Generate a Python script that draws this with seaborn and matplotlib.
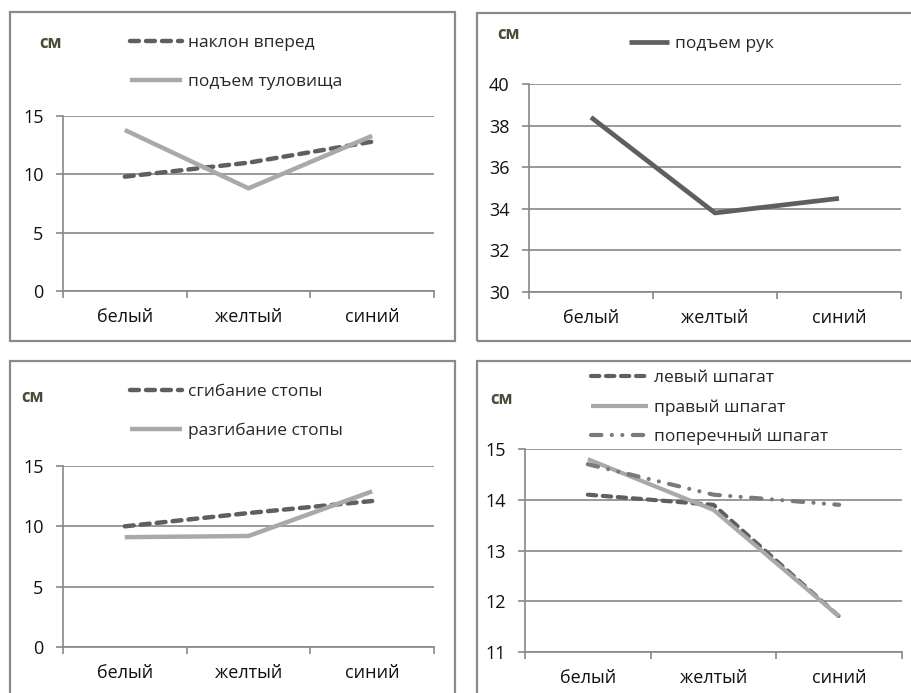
import matplotlib
matplotlib.use("Agg")
import numpy as np
import pandas as pd
import matplotlib.pyplot as plt
import seaborn as sns
from matplotlib.patches import Rectangle

sns.set_style("white")
plt.rcParams["font.family"] = ["Open Sans", "DejaVu Sans"]

W, H = 912, 693
DARK = "#5f5f5f"
LIGHT = "#a9a9a9"
MID = "#7a7a7a"
GRID = "#878787"
CM_COL = "#4a4a36"

cats = ["белый", "желтый", "синий"]

# panel 1
naklon = [9.8, 11.0, 12.8]
podem_tul = [13.8, 8.8, 13.3]
# panel 2
podem_ruk = [38.4, 33.8, 34.5]
# panel 3
sgib = [10.0, 11.1, 12.1]
razgib = [9.1, 9.2, 12.9]
# panel 4
levyi = [14.1, 13.9, 11.7]
pravyi = [14.8, 13.8, 11.7]
poperech = [14.7, 14.1, 13.9]

fig = plt.figure(figsize=(W / 100, H / 100), dpi=100)


def px_axes(x0, y0, x1, y1):
    return fig.add_axes([x0 / W, 1 - y1 / H, (x1 - x0) / W, (y1 - y0) / H])


def box(x0, y0, x1, y1):
    fig.add_artist(Rectangle((x0 / W, 1 - y1 / H), (x1 - x0) / W, (y1 - y0) / H,
                             transform=fig.transFigure, fill=False,
                             ec="#8a8a8a", lw=1.6))


def panel(rect, series, styles, ylim, yticks, leg_xy, leg_space, handlelen, cm_xy):
    ax = px_axes(*rect)
    names = [s[0] for s in series]
    df = pd.DataFrame({
        "cat": cats * len(series),
        "val": np.concatenate([s[1] for s in series]),
        "name": np.repeat(names, len(cats)),
    })
    for n in names:
        col, dash, lw = styles[n]
        sub = df[df.name == n]
        kw = dict(dash_capstyle="round") if dash else dict(solid_capstyle="butt")
        sns.lineplot(data=sub, x="cat", y="val", ax=ax, color=col, lw=lw,
                     label=n, legend=False, sort=False, **kw)
        if dash:
            ax.get_lines()[-1].set_dashes(dash)
    ax.set_xlim(-0.5, 2.5)
    ax.set_ylim(*ylim)
    ax.set_yticks(yticks)
    ax.set_xticks(range(3), cats)
    ax.set_xticks([-0.5, 0.5, 1.5, 2.5], minor=True)
    ax.set_xlabel("")
    ax.set_ylabel("")
    ax.yaxis.grid(True, color=GRID, lw=1.2)
    ax.set_axisbelow(True)
    for s in ["top", "right"]:
        ax.spines[s].set_visible(False)
    for s in ["left", "bottom"]:
        ax.spines[s].set_color(GRID)
        ax.spines[s].set_linewidth(1.2)
    ax.tick_params(axis="y", length=5, width=1.2, color=GRID, pad=9,
                   labelsize=13, labelcolor="#111111", left=True)
    ax.tick_params(axis="x", which="major", length=0, pad=12,
                   labelsize=13, labelcolor="#111111")
    ax.tick_params(axis="x", which="minor", length=5, width=1.2, color=GRID,
                   bottom=True)
    handles = ax.get_lines()[:len(names)]
    ax.legend(handles, names, loc="upper left",
              bbox_to_anchor=(leg_xy[0] / W, 1 - leg_xy[1] / H),
              bbox_transform=fig.transFigure, frameon=False, fontsize=12.5,
              handlelength=handlelen, handletextpad=0.35,
              labelspacing=leg_space, borderpad=0, borderaxespad=0)
    fig.text(cm_xy[0] / W, 1 - cm_xy[1] / H, "см", fontsize=12,
             fontweight="bold", color=CM_COL, ha="left", va="center")
    return ax


box(10, 12, 455, 341)
box(477, 13, 930, 341)
box(10, 361, 455, 720)
box(477, 361, 930, 720)

panel((63, 116, 434, 291),
      [("наклон вперед", naklon), ("подъем туловища", podem_tul)],
      {"наклон вперед": (DARK, (2, 1.6), 3.2),
       "подъем туловища": (LIGHT, None, 3.2)},
      (0, 15), [0, 5, 10, 15], (130, 35), 1.3, 3.0, (39, 43))

panel((529, 84, 901, 292),
      [("подъем рук", podem_ruk)],
      {"подъем рук": (DARK, None, 3.4)},
      (30, 40), [30, 32, 34, 36, 38, 40], (629, 36), 1.0, 2.3, (497, 34))

panel((63, 466, 434, 647),
      [("сгибание стопы", sgib), ("разгибание стопы", razgib)],
      {"сгибание стопы": (DARK, (2, 1.6), 3.2),
       "разгибание стопы": (LIGHT, None, 3.2)},
      (0, 15), [0, 5, 10, 15], (130, 384), 1.3, 3.0, (21, 397))

panel((525, 449, 902, 652),
      [("левый шпагат", levyi), ("правый шпагат", pravyi),
       ("поперечный шпагат", poperech)],
      {"левый шпагат": (DARK, (2, 1.6), 3.0),
       "правый шпагат": (LIGHT, None, 3.0),
       "поперечный шпагат": (MID, (2.5, 2.5, 0.01, 2.5, 0.01, 2.5), 3.0)},
      (11, 15), [11, 12, 13, 14, 15], (591, 370), 0.75, 3.3, (490, 399))

fig.savefig("out.png", dpi=100)
